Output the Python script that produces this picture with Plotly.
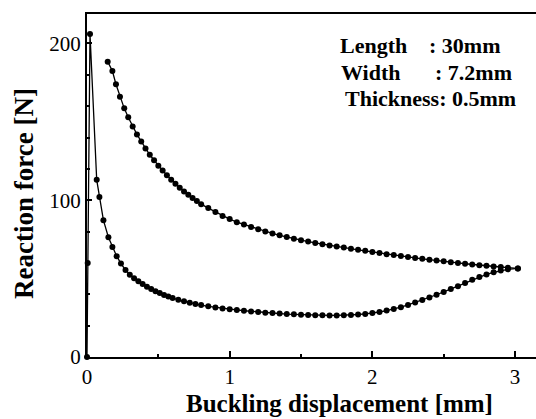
import plotly.graph_objects as go

# Loading path: (0,0) -> peak -> lower branch -> turning point
load_x = [0, 0.005, 0.021, 0.068, 0.087, 0.115, 0.15, 0.178,
          0.208, 0.238, 0.27, 0.30, 0.33, 0.36, 0.39, 0.42, 0.45, 0.48, 0.51, 0.54, 0.57,
          0.60, 0.64, 0.68, 0.72, 0.76, 0.80, 0.85, 0.90, 0.95, 1.00, 1.05, 1.10, 1.15,
          1.20, 1.25, 1.30, 1.35, 1.40, 1.45, 1.50, 1.55, 1.60, 1.65, 1.70, 1.75, 1.80,
          1.85, 1.90, 1.95, 2.00, 2.05, 2.10, 2.15, 2.20, 2.25, 2.30, 2.35, 2.40, 2.45,
          2.50, 2.55, 2.60, 2.65, 2.70, 2.75, 2.80, 2.85, 2.90, 2.95, 3.02]
load_y = [0, 60, 206, 113, 102, 87.3, 76.4, 70.2,
          64.3, 59.6, 55.5, 52.5, 50.3, 48.3, 46.5, 44.8, 43.3, 42.0, 40.8, 39.6, 38.6,
          37.6, 36.5, 35.5, 34.6, 33.8, 33.1, 32.3, 31.6, 31.0, 30.5, 30.0, 29.5, 29.1,
          28.7, 28.3, 28.0, 27.7, 27.4, 27.2, 27.0, 26.8, 26.7, 26.6, 26.5, 26.5, 26.6,
          26.8, 27.1, 27.5, 28.0, 28.7, 29.6, 30.6, 31.8, 33.2, 34.7, 36.3, 38.0, 39.7,
          41.5, 43.3, 45.2, 47.2, 49.2, 51.0, 52.7, 54.0, 55.1, 55.9, 56.5]

# Unloading path: upper branch
unload_x = [0.145, 0.178, 0.203, 0.231, 0.261, 0.289, 0.32, 0.35, 0.38, 0.41, 0.44, 0.47,
            0.50, 0.53, 0.56, 0.59, 0.62, 0.65, 0.68, 0.71, 0.74, 0.77, 0.80, 0.85, 0.90,
            0.95, 1.00, 1.05, 1.10, 1.15, 1.20, 1.25, 1.30, 1.35, 1.40, 1.45, 1.50, 1.55,
            1.60, 1.65, 1.70, 1.75, 1.80, 1.85, 1.90, 1.95, 2.00, 2.05, 2.10, 2.15, 2.20,
            2.25, 2.30, 2.35, 2.40, 2.45, 2.50, 2.55, 2.60, 2.65, 2.70, 2.75, 2.80, 2.85,
            2.90, 2.95, 3.02]
unload_y = [188.4, 182.4, 174, 166, 158.6, 152.9, 147, 142, 137.5, 133, 129, 125.5,
            122, 119, 116, 113, 110.5, 108, 105.5, 103.5, 101.5, 99.5, 97.5, 95, 92.5,
            90, 88, 86, 84.5, 83, 81.5, 80, 78.8, 77.6, 76.5, 75.5, 74.5, 73.6,
            72.8, 72, 71.2, 70.5, 69.8, 69.1, 68.4, 67.7, 67, 66.3, 65.6, 65, 64.4,
            63.8, 63.2, 62.6, 62, 61.5, 61, 60.5, 60, 59.5, 59, 58.6, 58.2, 57.8,
            57.4, 57, 56.5]

x_ticks = [0, 1, 2, 3]
y_ticks = [0, 100, 200]
x_title = "Buckling displacement [mm]"
y_title = "Reaction force [N]"
info_labels = ["Length", "Width", "Thickness: 0.5mm"]
info_values = [": 30mm", ": 7.2mm", ""]

FONT = "Liberation Serif, Times New Roman, serif"

fig = go.Figure()
for xs, ys in [(load_x, load_y), (unload_x, unload_y)]:
    fig.add_trace(go.Scatter(
        x=xs, y=ys, mode="lines+markers",
        line=dict(color="black", width=1.3),
        marker=dict(color="black", size=6, symbol="circle"),
        showlegend=False, cliponaxis=False,
    ))

W, H = 536, 419
L, R, T, B = 87, 0, 14, 62

def px(xp):
    return (xp - L) / (W - L - R)

def py(yp):
    return (H - B - yp) / (H - B - T)

label_pos = [(338, 45), (339, 72), (343, 98)]
value_pos = [427, 433, None]
for lab, val, (lx, ly), vx in zip(info_labels, info_values, label_pos, value_pos):
    fig.add_annotation(x=px(lx), y=py(ly), xref="paper", yref="paper",
                       text="<b>%s</b>" % lab, showarrow=False,
                       xanchor="left", yanchor="middle",
                       font=dict(family=FONT, size=22, color="black"))
    if val:
        fig.add_annotation(x=px(vx), y=py(ly), xref="paper", yref="paper",
                           text="<b>%s</b>" % val, showarrow=False,
                           xanchor="left", yanchor="middle",
                           font=dict(family=FONT, size=22, color="black"))

# Axis titles (placed as in the cropped original figure)
fig.add_annotation(x=px(339), y=py(403), xref="paper", yref="paper",
                   text="<b>%s</b>" % x_title, showarrow=False,
                   xanchor="center", yanchor="middle",
                   font=dict(family=FONT, size=25, color="black"))
fig.add_annotation(x=px(24), y=py(194), xref="paper", yref="paper",
                   text="<b>%s</b>" % y_title, showarrow=False, textangle=-90,
                   xanchor="center", yanchor="middle",
                   font=dict(family=FONT, size=27, color="black"))

fig.update_layout(
    width=W, height=H,
    margin=dict(l=L, r=R, t=T, b=B),
    paper_bgcolor="white", plot_bgcolor="white",
    font=dict(family=FONT, color="black"),
    xaxis=dict(
        range=[0, 3.147], tickvals=x_ticks, ticktext=[str(v) for v in x_ticks],
        ticks="inside", ticklen=6, tickwidth=1.5, tickcolor="black",
        minor=dict(dtick=0.5, ticks="inside", ticklen=3, tickwidth=1.5, tickcolor="black"),
        showline=True, linecolor="black", linewidth=2, mirror=True,
        showgrid=False, zeroline=False,
        tickfont=dict(family=FONT, size=21, color="black"),
    ),
    yaxis=dict(
        range=[0, 218.8], tickvals=y_ticks, ticktext=[str(v) for v in y_ticks],
        ticks="inside", ticklen=5, tickwidth=1.5, tickcolor="black",
        minor=dict(dtick=20, ticks="inside", ticklen=3, tickwidth=1.5, tickcolor="black"),
        showline=True, linecolor="black", linewidth=2, mirror=False,
        showgrid=False, zeroline=False,
        tickfont=dict(family=FONT, size=21, color="black"),
    ),
)

fig.write_html("out.html")
